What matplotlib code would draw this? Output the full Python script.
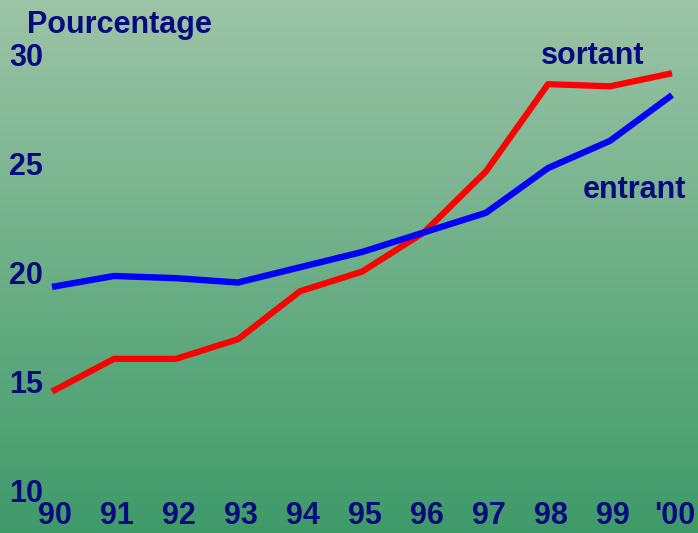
import numpy as np
import matplotlib.pyplot as plt
import matplotlib.transforms as mtransforms
from matplotlib.colors import LinearSegmentedColormap

# data
years = [90, 91, 92, 93, 94, 95, 96, 97, 98, 99, 100]
year_labels = ['90', '91', '92', '93', '94', '95', '96', '97', '98', '99', "'00"]
sortant = [14.7, 16.2, 16.2, 17.1, 19.3, 20.2, 22.0, 24.8, 28.8, 28.7, 29.3]
entrant = [19.5, 20.0, 19.9, 19.7, 20.4, 21.1, 22.0, 22.9, 24.95, 26.2, 28.3]
yticks = [10, 15, 20, 25, 30]

navy = '#0a0a80'
plt.rcParams['font.family'] = ['Liberation Sans', 'DejaVu Sans']

fig = plt.figure(figsize=(6.98, 5.33), dpi=100)

# background gradient
bg = fig.add_axes([0, 0, 1, 1], zorder=0)
cmap = LinearSegmentedColormap.from_list('bg', ['#3f9a6a', '#9cc4a6'])
grad = np.linspace(0, 1, 256).reshape(-1, 1)
bg.imshow(grad, aspect='auto', cmap=cmap, origin='lower', extent=[0, 1, 0, 1])
bg.axis('off')

ax = fig.add_axes([0, 0, 1, 1], zorder=1)
ax.patch.set_alpha(0)
ax.set_xlim(89.161, 100.419)
ax.set_ylim(8.21, 32.66)
ax.axis('off')

ax.plot(years, sortant, color='#ff0000', linewidth=4.5, solid_capstyle='butt', zorder=2)
ax.plot(years, entrant, color='#0000ff', linewidth=4.6, solid_capstyle='butt', zorder=3)

font = dict(color=navy, fontsize=22, fontweight='bold')

# y tick labels
ytrans = mtransforms.blended_transform_factory(ax.transAxes, ax.transData)
for v in yticks:
    ax.text(9 / 698, v, str(v), transform=ytrans, ha='left', va='center', **font)

# x tick labels
xtrans = mtransforms.blended_transform_factory(ax.transData, ax.transAxes)
for x, lab in zip(years, year_labels):
    ax.text(x + 0.05, 2 / 533, lab, transform=xtrans, ha='center', va='bottom', **font)

fig.text(27 / 698, 1 - 25 / 533, 'Pourcentage', ha='left', va='center', **font)
fig.text(593 / 698, 1 - 56 / 533, 'sortant', ha='center', va='center', **font)
fig.text(634 / 698, 1 - 190 / 533, 'entrant', ha='center', va='center', **font)

fig.savefig('out.png', dpi=100)
